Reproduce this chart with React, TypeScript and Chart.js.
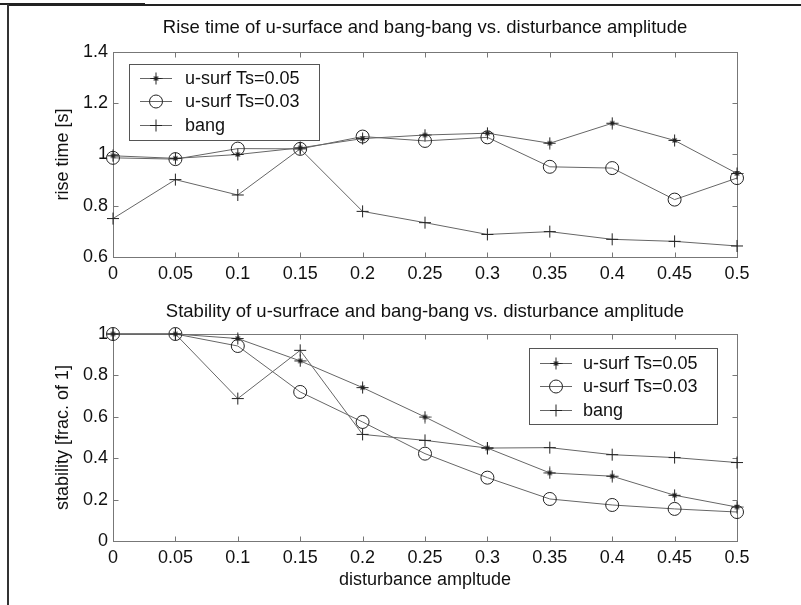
import React, { useEffect, useRef } from 'react';
import { Chart, registerables } from 'chart.js';

Chart.register(...registerables);

// ---------- data ----------
const xValues = [0, 0.05, 0.1, 0.15, 0.2, 0.25, 0.3, 0.35, 0.4, 0.45, 0.5];
const xTickLabels = ['0', '0.05', '0.1', '0.15', '0.2', '0.25', '0.3', '0.35', '0.4', '0.45', '0.5'];
const seriesNames = ['u-surf Ts=0.05', 'u-surf Ts=0.03', 'bang'];

const riseUsurf005 = [0.995, 0.985, 1.0, 1.026, 1.062, 1.076, 1.083, 1.044, 1.122, 1.055, 0.926];
const riseUsurf003 = [0.987, 0.982, 1.023, 1.022, 1.07, 1.053, 1.067, 0.952, 0.947, 0.824, 0.908];
const riseBang = [0.75, 0.902, 0.842, 1.022, 0.778, 0.734, 0.688, 0.699, 0.669, 0.661, 0.643];

const stabUsurf005 = [1, 1, 0.978, 0.87, 0.741, 0.599, 0.449, 0.329, 0.313, 0.221, 0.164];
const stabUsurf003 = [1, 1, 0.942, 0.72, 0.575, 0.422, 0.306, 0.203, 0.174, 0.155, 0.14];
const stabBang = [1, 1, 0.688, 0.921, 0.515, 0.486, 0.449, 0.451, 0.417, 0.403, 0.379];

const riseTicks = [0.6, 0.8, 1, 1.2, 1.4];
const riseTickLabels = ['0.6', '0.8', '1', '1.2', '1.4'];
const stabTicks = [0, 0.2, 0.4, 0.6, 0.8, 1];
const stabTickLabels = ['0', '0.2', '0.4', '0.6', '0.8', '1'];

const topTitle = 'Rise time of u-surface and bang-bang vs. disturbance amplitude';
const bottomTitle = 'Stability of u-surfrace and bang-bang vs. disturbance amplitude';
const topYLabel = 'rise time [s]';
const bottomYLabel = 'stability [frac. of 1]';
const bottomXLabel = 'disturbance ampltude';

// ---------- styles ----------
const FONT = '"Liberation Sans", Arial, Helvetica, sans-serif';
const TEXT = '#111';
const LINE = '#666';
const MARK = '#222';
const AXIS = '#777';

function makeStar(): HTMLCanvasElement {
  const c = document.createElement('canvas');
  c.width = 13;
  c.height = 13;
  const g = c.getContext('2d')!;
  g.strokeStyle = MARK;
  g.lineWidth = 1;
  g.beginPath();
  g.moveTo(6.5, 0.5);
  g.lineTo(6.5, 12.5);
  g.moveTo(0.5, 6.5);
  g.lineTo(12.5, 6.5);
  g.stroke();
  g.lineWidth = 1.3;
  g.beginPath();
  g.moveTo(4.5, 4.5);
  g.lineTo(8.5, 8.5);
  g.moveTo(8.5, 4.5);
  g.lineTo(4.5, 8.5);
  g.stroke();
  return c;
}

function drawMarker(ctx: CanvasRenderingContext2D, style: any, x: number, y: number, r: number) {
  ctx.save();
  ctx.strokeStyle = MARK;
  ctx.lineWidth = 1;
  if (style === 'circle') {
    ctx.beginPath();
    ctx.arc(x, y, r, 0, Math.PI * 2);
    ctx.stroke();
  } else if (style === 'cross') {
    ctx.beginPath();
    ctx.moveTo(x, y - r);
    ctx.lineTo(x, y + r);
    ctx.moveTo(x - r, y);
    ctx.lineTo(x + r, y);
    ctx.stroke();
  } else if (style && style.width) {
    ctx.drawImage(style, x - style.width / 2, y - style.height / 2);
  }
  ctx.restore();
}

const decorPlugin = {
  id: 'decor',
  beforeDatasetsDraw(chart: any) {
    const { ctx, chartArea: a, scales } = chart;
    ctx.save();
    ctx.strokeStyle = AXIS;
    ctx.lineWidth = 1;
    const L = Math.round(a.left) + 0.5;
    const R = Math.round(a.right) + 0.5;
    const T = Math.round(a.top) + 0.5;
    const B = Math.round(a.bottom) + 0.5;
    ctx.strokeRect(L, T, R - L, B - T);
    const tl = 5;
    ctx.beginPath();
    scales.x.ticks.forEach((t: any) => {
      const px = Math.round(scales.x.getPixelForValue(t.value)) + 0.5;
      ctx.moveTo(px, B);
      ctx.lineTo(px, B - tl);
      ctx.moveTo(px, T);
      ctx.lineTo(px, T + tl);
    });
    scales.y.ticks.forEach((t: any) => {
      const py = Math.round(scales.y.getPixelForValue(t.value)) + 0.5;
      ctx.moveTo(L, py);
      ctx.lineTo(L + tl, py);
      ctx.moveTo(R, py);
      ctx.lineTo(R - tl, py);
    });
    ctx.stroke();
    ctx.restore();
  },
  afterDatasetsDraw(chart: any, _args: any, opts: any) {
    const { ctx, chartArea: a } = chart;
    ctx.save();
    ctx.fillStyle = TEXT;
    ctx.textAlign = 'center';
    ctx.textBaseline = 'middle';
    const cx = (a.left + a.right) / 2;
    ctx.font = `18.5px ${FONT}`;
    ctx.fillText(opts.title, cx, opts.titleY);
    ctx.font = `18px ${FONT}`;
    if (opts.xLabel) ctx.fillText(opts.xLabel, cx, opts.xLabelY);
    ctx.save();
    ctx.translate(opts.yLabelX, (a.top + a.bottom) / 2);
    ctx.rotate(-Math.PI / 2);
    ctx.fillText(opts.yLabel, 0, 0);
    ctx.restore();

    // legend
    const lg = opts.legend;
    ctx.fillStyle = '#fff';
    ctx.fillRect(lg.x, lg.y, lg.w, lg.h);
    ctx.strokeStyle = '#555';
    ctx.lineWidth = 1;
    ctx.strokeRect(Math.round(lg.x) + 0.5, Math.round(lg.y) + 0.5, lg.w, lg.h);
    ctx.font = `18px ${FONT}`;
    ctx.textAlign = 'left';
    ctx.textBaseline = 'middle';
    chart.data.datasets.forEach((ds: any, i: number) => {
      const ry = Math.round(lg.y + lg.firstRow + i * lg.rowGap) + 0.5;
      ctx.strokeStyle = LINE;
      ctx.beginPath();
      ctx.moveTo(lg.x + lg.lineStart, ry);
      ctx.lineTo(lg.x + lg.lineStart + lg.lineLen, ry);
      ctx.stroke();
      drawMarker(ctx, ds.pointStyle, lg.x + lg.lineStart + lg.lineLen / 2, ry, ds.pointRadius);
      ctx.fillStyle = TEXT;
      ctx.fillText(ds.label, lg.x + lg.textStart, ry + 1);
    });
    ctx.restore();
  },
};

function buildConfig(p: any) {
  const star = p.star;
  const styles = [star, 'circle', 'cross'];
  const radii = [6, 6.5, 6];
  const datasets = p.series.map((vals: number[], i: number) => ({
    label: seriesNames[i],
    data: xValues.map((x, j) => ({ x, y: vals[j] })),
    borderColor: LINE,
    borderWidth: 1,
    pointStyle: styles[i],
    pointRadius: radii[i],
    pointBorderColor: MARK,
    pointBorderWidth: 1,
    pointBackgroundColor: 'rgba(0,0,0,0)',
    tension: 0,
    clip: false,
  }));
  return {
    type: 'line',
    data: { datasets },
    plugins: [decorPlugin],
    options: {
      animation: false,
      responsive: false,
      events: [],
      layout: { padding: p.padding },
      plugins: {
        legend: { display: false },
        tooltip: { enabled: false },
        title: { display: false },
        decor: p.decor,
      },
      scales: {
        x: {
          type: 'linear',
          min: 0,
          max: 0.5,
          afterBuildTicks: (s: any) => {
            s.ticks = xValues.map((v) => ({ value: v }));
          },
          afterFit: (s: any) => {
            s.height = 25;
          },
          ticks: {
            autoSkip: false,
            maxRotation: 0,
            padding: 6,
            color: TEXT,
            font: { family: FONT, size: 18 },
            callback: (_v: any, i: number) => xTickLabels[i],
          },
          grid: { display: false, drawTicks: false },
          border: { display: false },
        },
        y: {
          type: 'linear',
          min: p.yTicks[0],
          max: p.yTicks[p.yTicks.length - 1],
          afterBuildTicks: (s: any) => {
            s.ticks = p.yTicks.map((v: number) => ({ value: v }));
          },
          afterFit: (s: any) => {
            s.width = 40;
          },
          ticks: {
            padding: 5,
            color: TEXT,
            font: { family: FONT, size: 18 },
            callback: (_v: any, i: number) => p.yTickLabels[i],
          },
          grid: { display: false, drawTicks: false },
          border: { display: false },
        },
      },
    },
  };
}

export default function App() {
  const topRef = useRef<HTMLCanvasElement>(null);
  const botRef = useRef<HTMLCanvasElement>(null);

  useEffect(() => {
    const star = makeStar();
    const top = new Chart(
      topRef.current as HTMLCanvasElement,
      buildConfig({
        star,
        series: [riseUsurf005, riseUsurf003, riseBang],
        yTicks: riseTicks,
        yTickLabels: riseTickLabels,
        padding: { left: 73, right: 64, top: 52, bottom: 8 },
        decor: {
          title: topTitle,
          titleY: 28,
          yLabel: topYLabel,
          yLabelX: 63,
          legend: { x: 129, y: 64, w: 190, h: 76, firstRow: 14, rowGap: 23.3, lineStart: 11, lineLen: 32, textStart: 56 },
        },
      }) as any
    );
    const bot = new Chart(
      botRef.current as HTMLCanvasElement,
      buildConfig({
        star,
        series: [stabUsurf005, stabUsurf003, stabBang],
        yTicks: stabTicks,
        yTickLabels: stabTickLabels,
        padding: { left: 73, right: 64, top: 44, bottom: 39 },
        decor: {
          title: bottomTitle,
          titleY: 22,
          yLabel: bottomYLabel,
          yLabelX: 63,
          xLabel: bottomXLabel,
          xLabelY: 290,
          legend: { x: 529, y: 58, w: 188, h: 76, firstRow: 15, rowGap: 23.3, lineStart: 11, lineLen: 32, textStart: 54 },
        },
      }) as any
    );
    return () => {
      top.destroy();
      bot.destroy();
    };
  }, []);

  return (
    <div style={{ position: 'fixed', left: 0, top: 0, width: 801, height: 605, background: '#fff', overflow: 'hidden' }}>
      <div style={{ position: 'absolute', left: 0, top: 3, width: 145, height: 2, background: '#222' }} />
      <div style={{ position: 'absolute', left: 8, top: 4, width: 793, height: 2, background: '#222' }} />
      <div style={{ position: 'absolute', left: 7, top: 4, width: 2, height: 601, background: '#333' }} />
      <canvas ref={topRef} width={801} height={290} style={{ position: 'absolute', left: 0, top: 0 }} />
      <canvas ref={botRef} width={801} height={315} style={{ position: 'absolute', left: 0, top: 290 }} />
    </div>
  );
}
